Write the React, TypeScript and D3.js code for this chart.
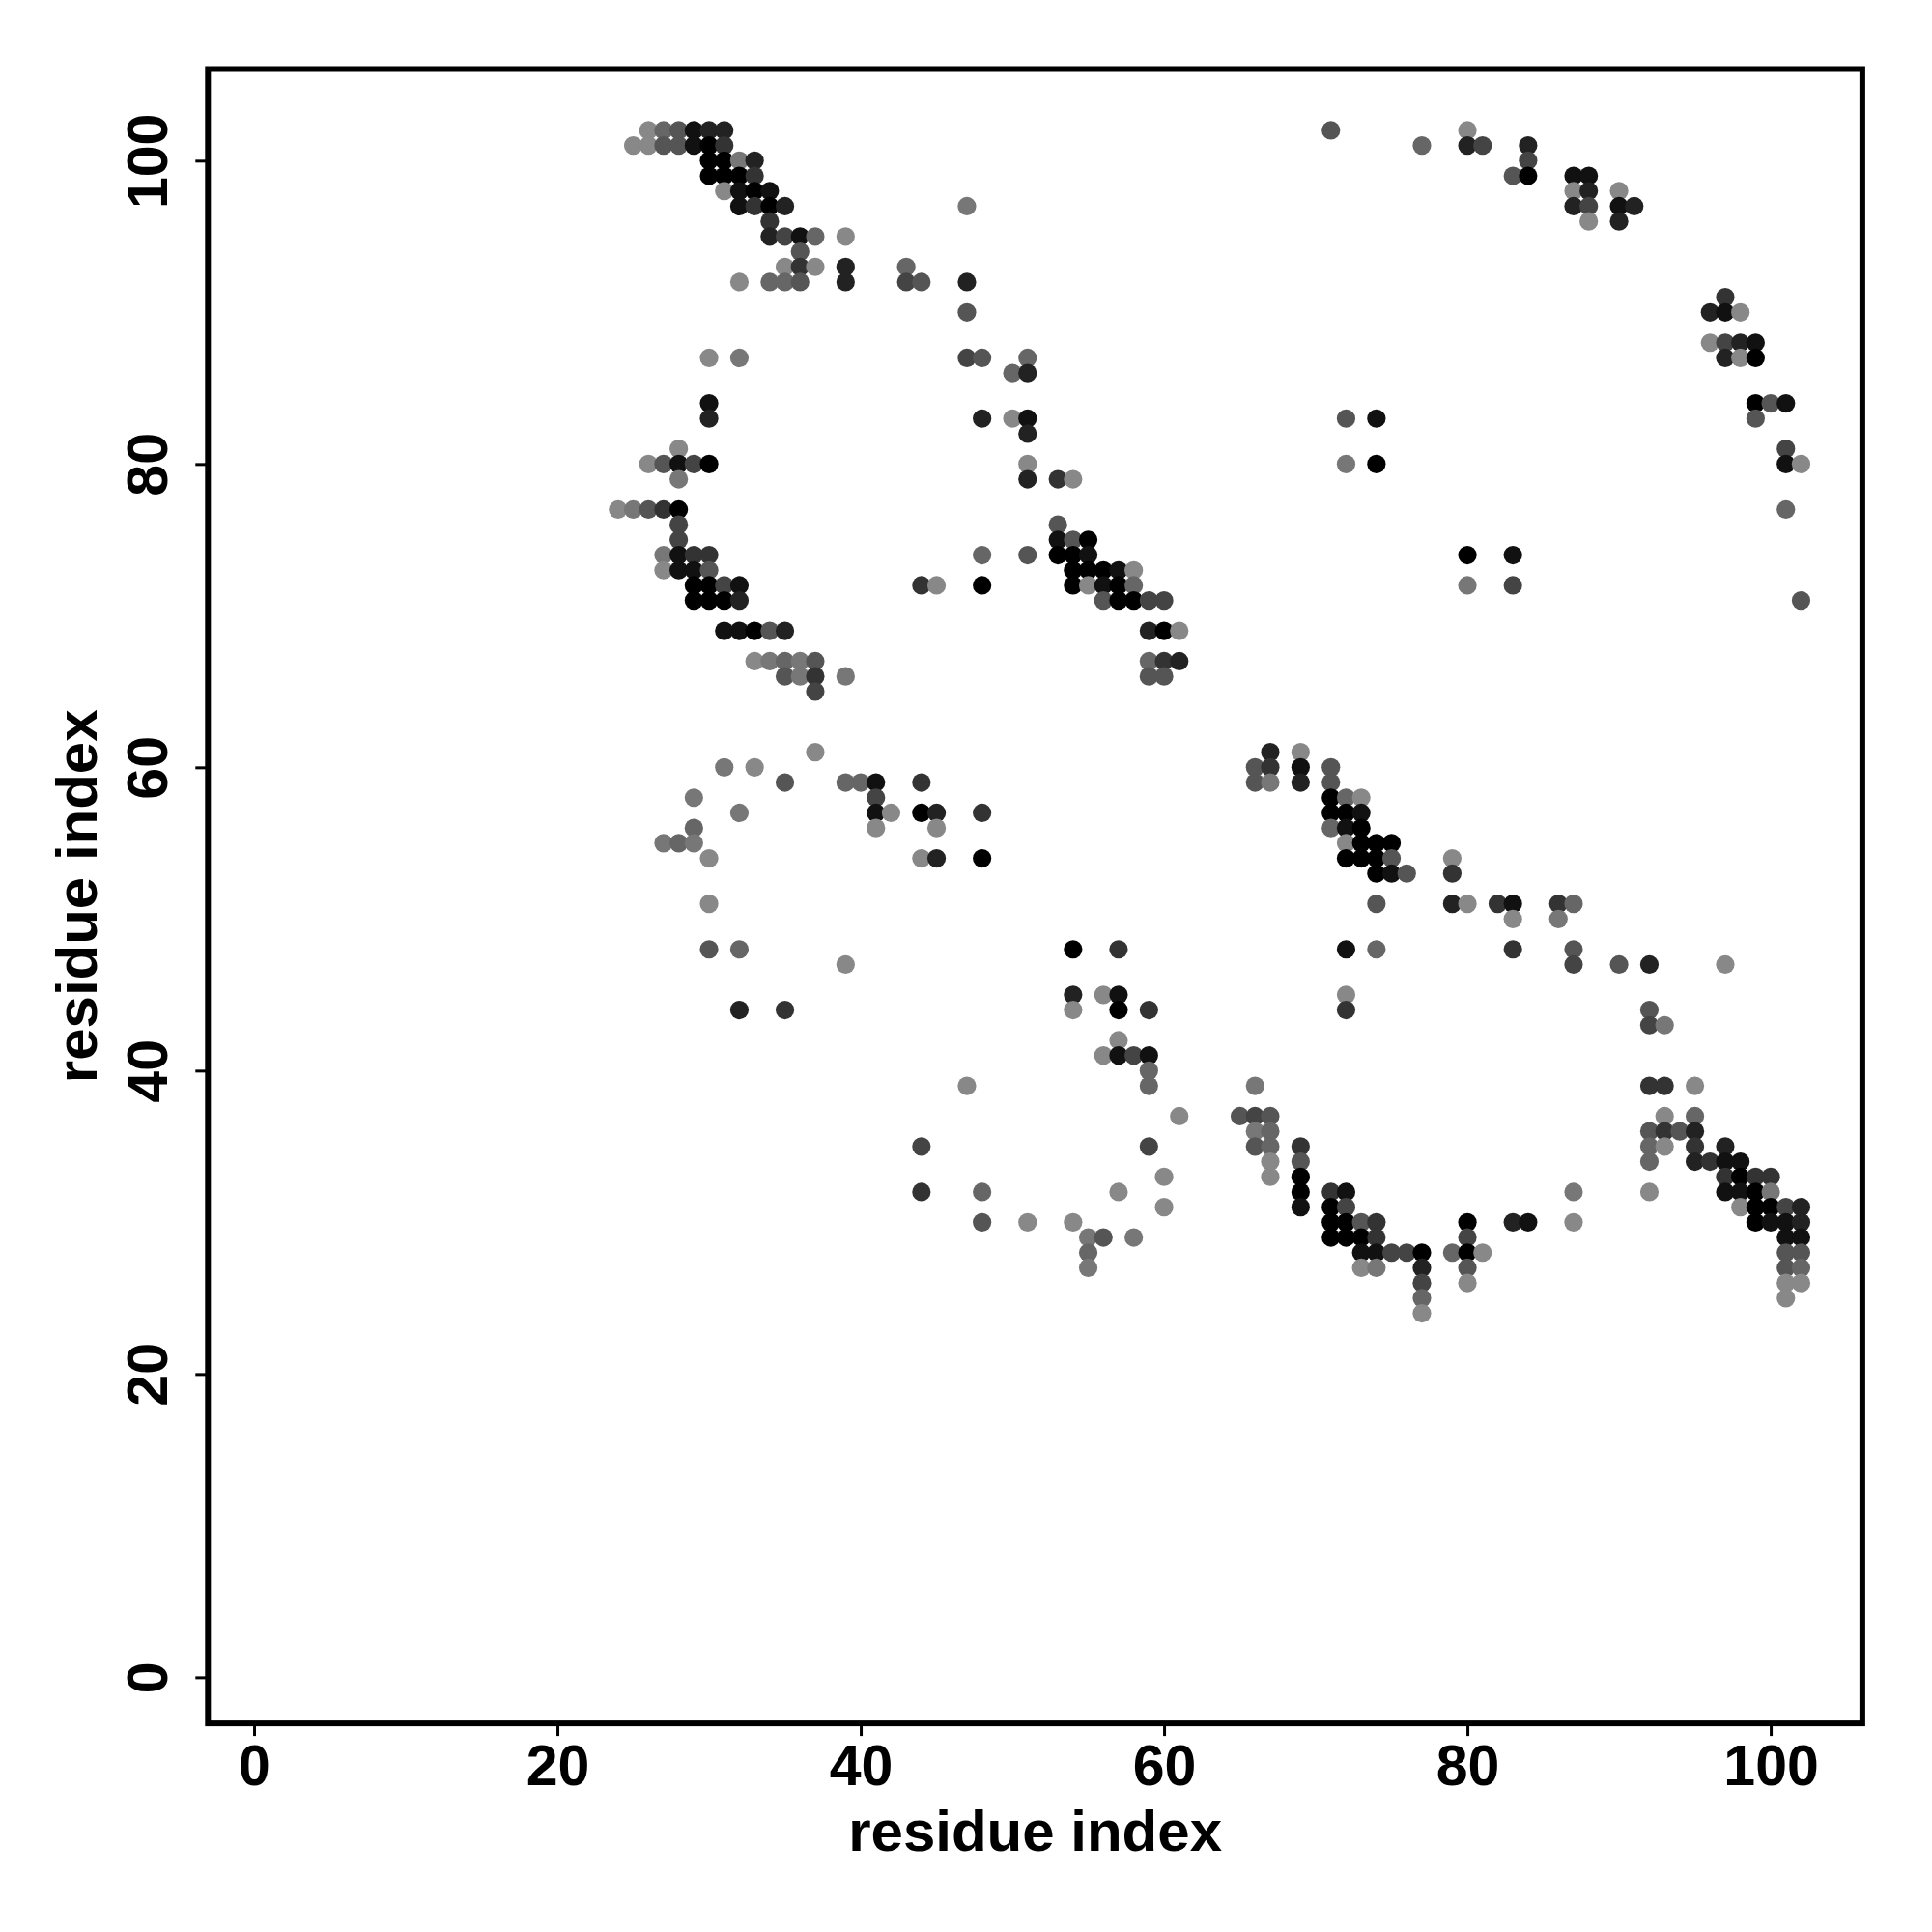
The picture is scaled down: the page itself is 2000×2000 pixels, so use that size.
import React, { useEffect, useRef } from 'react';
import * as d3 from 'd3';

// [residue i, residue j, shade step]  shade: 0 = black ... 8 = light grey
type Contact = [number, number, number];

const bandA: Contact[] = [
    [26, 102, 8], [27, 102, 6], [28, 102, 5], [29, 102, 1], [30, 102, 2], [31, 102, 2],
    [25, 101, 8], [26, 101, 8], [27, 101, 5], [28, 101, 5], [29, 101, 1], [30, 101, 0], [31, 101, 3],
    [30, 100, 0], [31, 100, 0], [32, 100, 7], [33, 100, 2],
    [30, 99, 0], [31, 99, 0], [32, 99, 0], [33, 99, 3],
    [31, 98, 8], [32, 98, 1], [33, 98, 0], [34, 98, 1],
    [32, 97, 1], [33, 97, 3], [34, 97, 0], [35, 97, 2], [47, 97, 7],
    [34, 96, 3],
    [34, 95, 2], [35, 95, 4], [36, 95, 1], [37, 95, 6], [39, 95, 8],
    [36, 94, 5],
    [35, 93, 8], [36, 93, 3], [37, 93, 8], [39, 93, 2], [43, 93, 6],
    [32, 92, 8], [34, 92, 6], [35, 92, 6], [36, 92, 5], [39, 92, 2], [43, 92, 4], [44, 92, 5], [47, 92, 2],
    [47, 90, 5],
];

const bandB: Contact[] = [
    [47, 87, 4], [48, 87, 5], [51, 87, 6],
    [50, 86, 6], [51, 86, 2],
    [48, 83, 2], [50, 83, 8], [51, 83, 1],
    [51, 82, 2],
    [51, 80, 8],
    [51, 79, 2], [53, 79, 3], [54, 79, 8],
    [53, 76, 5],
    [53, 75, 1], [54, 75, 5], [55, 75, 0],
    [48, 74, 6], [51, 74, 5], [53, 74, 0], [54, 74, 0], [55, 74, 1],
    [54, 73, 0], [55, 73, 0], [56, 73, 0], [57, 73, 1], [58, 73, 8],
    [44, 72, 3], [45, 72, 8], [48, 72, 0], [54, 72, 0], [55, 72, 8], [56, 72, 1], [57, 72, 0], [58, 72, 6],
    [56, 71, 5], [57, 71, 0], [58, 71, 0], [59, 71, 4], [60, 71, 4],
    [59, 69, 2], [60, 69, 0], [61, 69, 8],
    [59, 67, 6], [60, 67, 3], [61, 67, 2],
    [59, 66, 5], [60, 66, 5],
];

const bandC: Contact[] = [
    [30, 87, 8], [32, 87, 7],
    [30, 84, 1], [30, 83, 2],
    [28, 81, 8],
    [26, 80, 8], [27, 80, 5], [28, 80, 1], [29, 80, 4], [30, 80, 0],
    [28, 79, 7],
    [24, 77, 8], [25, 77, 7], [26, 77, 5], [27, 77, 3], [28, 77, 0],
    [28, 76, 4], [28, 75, 4],
    [27, 74, 7], [28, 74, 1], [29, 74, 3], [30, 74, 3],
    [27, 73, 8], [28, 73, 1], [29, 73, 1], [30, 73, 5],
    [29, 72, 0], [30, 72, 0], [31, 72, 4], [32, 72, 1],
    [29, 71, 0], [30, 71, 0], [31, 71, 0], [32, 71, 2],
    [31, 69, 1], [32, 69, 1], [33, 69, 0], [34, 69, 5], [35, 69, 2],
    [33, 67, 8], [34, 67, 7], [35, 67, 6], [36, 67, 7], [37, 67, 5],
    [35, 66, 5], [36, 66, 7], [37, 66, 3], [39, 66, 7],
    [37, 65, 4],
];

const scatterD: Contact[] = [
    [37, 61, 8],
    [31, 60, 7], [33, 60, 8],
    [35, 59, 5], [39, 59, 6], [40, 59, 6], [41, 59, 1], [44, 59, 3],
    [29, 58, 7], [41, 58, 4],
    [32, 57, 7], [41, 57, 1], [42, 57, 8], [44, 57, 0], [45, 57, 2], [48, 57, 3],
    [29, 56, 6], [41, 56, 8], [45, 56, 8],
    [27, 55, 7], [28, 55, 6], [29, 55, 7],
    [30, 54, 8], [44, 54, 8], [45, 54, 2], [48, 54, 0],
    [30, 51, 8],
    [30, 48, 5], [32, 48, 6],
    [39, 47, 8],
    [32, 44, 2], [35, 44, 3],
];

const scatterE: Contact[] = [
    [54, 48, 0], [57, 48, 3],
    [54, 45, 2], [56, 45, 8], [57, 45, 1],
    [54, 44, 8], [57, 44, 0], [59, 44, 3],
    [57, 42, 8],
    [56, 41, 8], [57, 41, 1], [58, 41, 4], [59, 41, 1],
    [59, 40, 6],
    [47, 39, 8], [59, 39, 6],
    [61, 37, 8],
    [44, 35, 4], [59, 35, 4],
    [60, 33, 8],
    [44, 32, 3], [48, 32, 6], [57, 32, 8],
    [60, 31, 8],
    [48, 30, 5], [51, 30, 8], [54, 30, 8],
    [55, 29, 7], [56, 29, 5], [58, 29, 7],
    [55, 28, 6],
    [55, 27, 7],
];

const bandF: Contact[] = [
    [67, 61, 2], [69, 61, 8],
    [66, 60, 5], [67, 60, 3], [69, 60, 1], [71, 60, 5],
    [66, 59, 5], [67, 59, 7], [69, 59, 2], [71, 59, 5],
    [71, 58, 0], [72, 58, 6], [73, 58, 8],
    [71, 57, 0], [72, 57, 0], [73, 57, 1],
    [71, 56, 6], [72, 56, 1], [73, 56, 0],
    [72, 55, 8], [73, 55, 0], [74, 55, 0], [75, 55, 0],
    [72, 54, 0], [73, 54, 0], [74, 54, 0], [75, 54, 5], [79, 54, 8],
    [74, 53, 0], [75, 53, 1], [76, 53, 5], [79, 53, 3],
    [74, 51, 5], [79, 51, 2], [80, 51, 8], [82, 51, 3], [83, 51, 1], [86, 51, 3], [87, 51, 6],
    [83, 50, 8], [86, 50, 7],
    [72, 48, 1], [74, 48, 6], [83, 48, 3], [87, 48, 5],
    [87, 47, 4], [90, 47, 5], [92, 47, 2], [97, 47, 8],
    [72, 45, 8], [72, 44, 3],
    [92, 44, 5], [92, 43, 4], [93, 43, 7],
];

const bandG: Contact[] = [
    [66, 39, 7],
    [65, 37, 5], [66, 37, 4], [67, 37, 5],
    [66, 36, 7], [67, 36, 6],
    [66, 35, 5], [67, 35, 6], [69, 35, 3],
    [67, 34, 8], [69, 34, 5],
    [67, 33, 8], [69, 33, 0],
    [69, 32, 0], [71, 32, 3], [72, 32, 1], [87, 32, 7],
    [69, 31, 1], [71, 31, 0], [72, 31, 4],
    [71, 30, 0], [72, 30, 0], [73, 30, 5], [74, 30, 3], [80, 30, 0], [83, 30, 2], [84, 30, 1], [87, 30, 8],
    [71, 29, 0], [72, 29, 0], [73, 29, 0], [74, 29, 3], [80, 29, 4],
    [73, 28, 1], [74, 28, 1], [75, 28, 4], [76, 28, 4], [77, 28, 0], [79, 28, 6], [80, 28, 0], [81, 28, 8],
    [73, 27, 8], [74, 27, 7], [77, 27, 2], [80, 27, 5],
    [77, 26, 4], [80, 26, 8],
    [77, 25, 6],
    [77, 24, 8],
];

const bandH: Contact[] = [
    [92, 39, 3], [93, 39, 3], [95, 39, 8],
    [93, 37, 8], [95, 37, 6],
    [92, 36, 5], [93, 36, 3], [94, 36, 5], [95, 36, 2],
    [92, 35, 6], [93, 35, 8], [95, 35, 3], [97, 35, 2],
    [92, 34, 6], [95, 34, 2], [96, 34, 3], [97, 34, 1], [98, 34, 1],
    [97, 33, 3], [98, 33, 0], [99, 33, 3], [100, 33, 3],
    [92, 32, 8], [97, 32, 1], [98, 32, 1], [99, 32, 0], [100, 32, 7],
    [98, 31, 8], [99, 31, 0], [100, 31, 0], [101, 31, 4], [102, 31, 2],
    [99, 30, 0], [100, 30, 1], [101, 30, 1], [102, 30, 2],
    [101, 29, 1], [102, 29, 1],
    [101, 28, 5], [102, 28, 5],
    [101, 27, 5], [102, 27, 6],
    [101, 26, 8], [102, 26, 8],
    [101, 25, 8],
];

const cornerI: Contact[] = [
    [71, 102, 5], [80, 102, 8],
    [77, 101, 6], [80, 101, 2], [81, 101, 4], [84, 101, 2],
    [84, 100, 4],
    [83, 99, 5], [84, 99, 0], [87, 99, 1], [88, 99, 1],
    [87, 98, 8], [88, 98, 2], [90, 98, 8],
    [87, 97, 2], [88, 97, 4], [90, 97, 1], [91, 97, 2],
    [88, 96, 8], [90, 96, 2],
    [72, 83, 5], [74, 83, 1],
    [72, 80, 7], [74, 80, 0],
    [80, 74, 0], [83, 74, 1],
    [80, 72, 7], [83, 72, 4],
];

const edgeJ: Contact[] = [
    [97, 91, 3],
    [96, 90, 2], [97, 90, 1], [98, 90, 8],
    [96, 88, 8], [97, 88, 4], [98, 88, 2], [99, 88, 1],
    [97, 87, 2], [98, 87, 8], [99, 87, 0],
    [99, 84, 0], [100, 84, 5], [101, 84, 1],
    [99, 83, 5],
    [101, 81, 4],
    [101, 80, 1], [102, 80, 8],
    [101, 77, 6],
    [102, 71, 5],
];

const xTicks = [0, 20, 40, 60, 80, 100];
const yTicks = [0, 20, 40, 60, 80, 100];
const axisDomain: [number, number] = [-3.04, 106.04];
const xTitle = 'residue index';
const yTitle = 'residue index';

const App: React.FC = () => {
    const ref = useRef<SVGSVGElement>(null);

    useEffect(() => {
        const svg = d3.select(ref.current);
        svg.selectAll('*').remove();

        const left = 215.3, top = 71.5, size = 1712.6;
        const font = '"Liberation Sans", Arial, Helvetica, sans-serif';

        const x = d3.scaleLinear().domain(axisDomain).range([left, left + size]);
        const y = d3.scaleLinear().domain(axisDomain).range([top + size, top]);
        const grey = d3.scaleLinear<string>().domain([0, 8]).range(['#000000', '#888888']);

        const contacts = [...bandA, ...bandB, ...bandC, ...scatterD, ...scatterE,
            ...bandF, ...bandG, ...bandH, ...cornerI, ...edgeJ];

        svg.append('g')
            .selectAll('circle')
            .data(contacts)
            .enter()
            .append('circle')
            .attr('cx', d => x(d[0]))
            .attr('cy', d => y(d[1]))
            .attr('r', 9.6)
            .attr('fill', d => grey(d[2]));

        // axes (ticks only, the box is drawn separately)
        const gx = svg.append('g')
            .attr('transform', `translate(0,${top + size})`)
            .call(d3.axisBottom(x).tickValues(xTicks).tickSize(13).tickFormat(d3.format('d')));
        gx.select('.domain').remove();
        gx.selectAll('line').attr('stroke', '#000').attr('stroke-width', 3);
        gx.selectAll('text')
            .attr('y', 1848 - (top + size))
            .attr('dy', 0)
            .attr('fill', '#000')
            .style('font-family', font)
            .style('font-weight', 'bold')
            .style('font-size', '59px');

        const gy = svg.append('g')
            .attr('transform', `translate(${left},0)`)
            .call(d3.axisLeft(y).tickValues(yTicks).tickSize(13).tickFormat(d3.format('d')));
        gy.select('.domain').remove();
        gy.selectAll('line').attr('stroke', '#000').attr('stroke-width', 3);
        gy.selectAll('text')
            .attr('x', 0)
            .attr('y', 0)
            .attr('dy', 0)
            .attr('text-anchor', 'middle')
            .attr('transform', `translate(${173 - left},0) rotate(-90)`)
            .attr('fill', '#000')
            .style('font-family', font)
            .style('font-weight', 'bold')
            .style('font-size', '59px');

        svg.append('rect')
            .attr('x', left)
            .attr('y', top)
            .attr('width', size)
            .attr('height', size)
            .attr('fill', 'none')
            .attr('stroke', '#000')
            .attr('stroke-width', 6);

        svg.append('text')
            .attr('x', left + size / 2)
            .attr('y', 1916)
            .attr('text-anchor', 'middle')
            .style('font-family', font)
            .style('font-weight', 'bold')
            .style('font-size', '60px')
            .text(xTitle);

        svg.append('text')
            .attr('transform', `translate(100,${top + size / 2}) rotate(-90)`)
            .attr('text-anchor', 'middle')
            .style('font-family', font)
            .style('font-weight', 'bold')
            .style('font-size', '60px')
            .text(yTitle);
    }, []);

    return (
        <svg ref={ref} width={2000} height={2000}
            style={{ position: 'absolute', left: 0, top: 0, background: '#fff' }} />
    );
};

export default App;
